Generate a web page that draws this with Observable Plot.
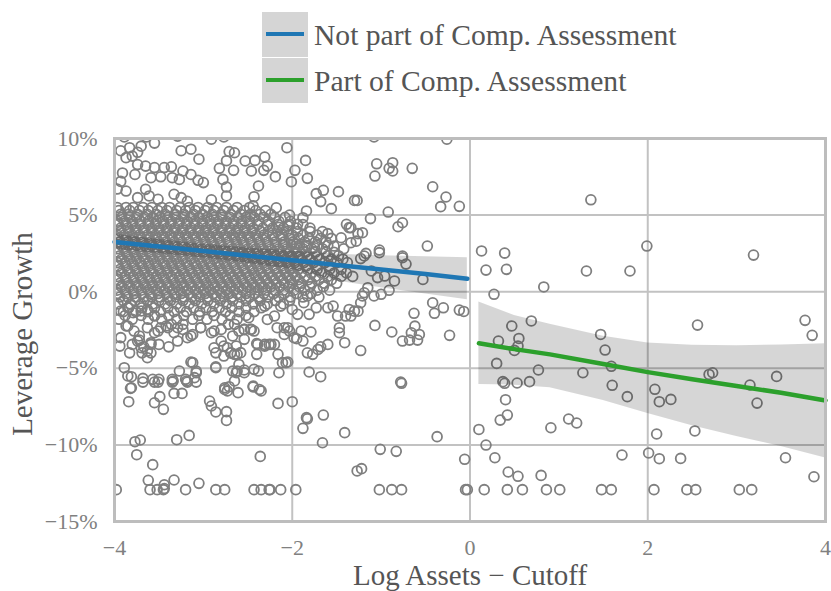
<!DOCTYPE html>
<html><head><meta charset="utf-8">
<script src="https://cdn.jsdelivr.net/npm/d3@7"></script>
<script src="https://cdn.jsdelivr.net/npm/@observablehq/plot@0.6"></script>
<style>
body{margin:0;background:#fff;}
#wrap{position:relative;width:831px;height:591px;font-family:"Liberation Serif",serif;}
#chart{position:absolute;left:0;top:0;}
.lg-box{position:absolute;left:262px;width:46px;height:45px;background:#d5d5d5;}
.lg-line{position:absolute;left:4px;right:4px;top:20px;height:4px;}
.lg-text{position:absolute;left:314px;font-size:29.6px;color:#555;line-height:45px;white-space:nowrap;}
</style></head><body>
<div id="wrap"><div id="chart"></div><div id="legend"></div></div>
<script>
const seriesNames = ["Not part of Comp. Assessment", "Part of Comp. Assessment"];
const seriesColors = ["#1f77b4", "#2ca02c"];
const xTicks = [-4, -2, 0, 2, 4];
const yTicks = [-15, -10, -5, 0, 5, 10];

// Not part of Comp. Assessment: scattered points [x, y%]
const notPartPts = [
[-3.89,10.1],[-3.64,10.1],[-3.55,9.7],[-3.29,10.15],[-2.91,9.95],[-2.77,10.1],[-3.93,9.2],[-3.83,9.4],[-3.70,9.5],[-3.74,9.1],[-3.87,8.75],[-3.80,8.85],[-3.25,9.2],[-3.14,9.3],[-3.05,8.65],[-2.71,9.15],[-2.74,8.55],[-2.82,8.05],[-3.74,8.3],[-3.65,8.2],[-3.91,7.75],[-3.77,7.65],[-3.55,8.1],[-3.44,8.1],[-3.36,8.15],[-3.23,7.88],[-3.14,7.65],[-3.59,7.44],[-3.48,7.5],[-3.35,7.44],[-3.27,7.33],[-3.06,7.27],[-3.00,7.12],[-2.78,7.33],[-2.74,6.83],[-3.93,7.2],[-3.97,6.7],[-3.87,6.57],[-3.65,6.68],[-3.61,6.25],[-3.33,6.36],[-3.25,6.14],[-3.18,5.9],[-2.74,6.25],[-2.91,6.0],[-3.74,6.14],[-3.51,6.03],
[-2.06,9.4],[-2.65,9.07],[-2.53,8.53],[-2.42,8.57],[-2.31,8.79],[-2.28,8.2],[-2.32,7.92],[-2.46,7.88],[-2.66,7.92],[-2.19,7.51],[-2.01,7.18],[-1.97,7.92],[-1.85,8.57],[-1.83,7.4],[-2.38,6.9],[-2.43,6.2],[-1.73,6.4],[-1.65,6.62],[-1.68,5.88],[-1.48,6.53],[-1.56,5.42],[-1.30,5.96],
[-2.18,5.48],[-2.44,5.6],[-1.84,5.27],[-2.03,5.0],[-1.88,4.83],[-1.94,4.4],[-2.05,4.3],[-2.15,4.2],[-1.39,4.4],[-1.36,4.18],[-1.60,3.79],[-1.45,3.52],[-1.53,2.98],[-1.75,2.87],[-1.84,2.98],[-1.95,3.1],[-2.08,3.1],
[-1.08,10.1],[-0.26,9.95],[-1.05,8.35],[-0.87,8.42],[-0.91,8.05],[-0.87,7.88],[-1.07,7.55],[-0.65,8.05],[-0.42,6.85],[-0.27,6.18],[-0.33,5.55],[-0.12,5.57],[-1.27,5.96],[-0.92,5.2],[-1.12,4.77],[-0.76,4.5],[-0.81,4.24],[-0.48,2.98],[-1.02,2.72],[-1.34,4.18],[-1.26,3.79],[-1.21,3.85],[-1.28,3.3],[-1.34,3.2],[-1.17,2.5],[-0.76,2.33],
[-1.19,2.33],[-1.23,2.16],[-1.02,2.55],[-0.76,2.22],[-0.72,1.8],[-1.11,1.35],[-1.04,0.92],[-0.96,1.02],[-0.85,0.7],[-0.53,0.8],[-1.15,0.26],[-1.19,-0.07],[-1.21,-0.28],[-1.08,-0.28],[-1.0,-0.17],[-0.91,0.09],[-1.23,-0.72],[-1.30,-1.27],[-1.34,-1.59],[-1.26,-1.27],[-0.42,-0.72],[-0.30,-1.05],[-0.40,-1.41],[-0.12,-1.2],[-0.07,-1.29],[-0.63,-1.41],[-1.07,-2.2],[-0.88,-2.63],[-0.62,-2.25],[-0.66,-2.68],[-0.57,-2.79],[-0.76,-3.22],[-0.68,-3.16],[-0.59,-3.16],[-0.23,-2.85],[-1.23,-3.84],[-0.78,-5.9],
[-1.60,-1.05],[-1.54,-0.94],[-1.49,-1.59],[-1.40,-1.59],[-1.36,-1.16],[-1.47,-2.35],[-1.47,-2.68],[-1.41,-3.33],[-1.60,-3.44],[-1.68,-3.6],[-1.71,-3.77],[-1.77,-4.09],[-1.83,-3.99],[-1.88,-3.22],[-1.79,-2.63],[-1.90,-2.57],[-1.81,-1.48],[-1.73,-1.05],[-1.95,-3.07],[-2.40,-3.38],[-2.31,-3.55],[-2.26,-3.44],[-2.20,-3.44],[-2.40,-4.09],[-2.11,-4.63],[-2.05,-4.59],[-2.62,-5.18],[-2.54,-5.11],[-2.38,-5.18],[-2.15,-5.29],[-1.81,-5.24],[-1.68,-5.55],[-2.65,-5.83],
[-2.47,-2.46],[-2.54,-2.46],[-2.43,-2.57],[-2.49,-1.7],[-2.31,-0.94],[-2.20,-1.59],[-2.13,-0.94],[-2.28,-1.81],[-2.17,-2.35],[-2.09,-2.35],[-2.03,-2.57],[-2.00,-1.16],[-1.94,-1.48],[-1.87,-0.72],[-1.83,-0.28],[-2.65,-2.13],[-2.60,-2.57],[-2.54,-3.11],[-2.63,-3.55],[-2.69,-3.99],[-2.62,-4.09],
[-3.89,-4.96],[-3.81,-5.55],[-3.68,-5.66],[-3.57,-5.72],[-3.50,-5.72],[-3.35,-5.72],[-3.27,-5.18],[-3.14,-4.59],[-3.08,-5.18],[-3.10,-5.61],[-3.19,-5.83],[-2.86,-4.9],[-2.67,-5.18],
[-3.87,-2.24],[-3.72,-2.89],[-3.63,-2.35],[-3.55,-2.68],[-3.48,-2.35],[-3.42,-2.24],[-3.36,-2.13],[-3.29,-2.35],[-3.23,-2.13],[-3.14,-2.89],[-3.03,-2.35],[-2.91,-2.68],[-2.80,-2.46],[-2.72,-2.13],[-2.67,-2.89],
[-3.80,-3.44],[-3.72,-3.16],[-3.67,-3.6],[-3.59,-3.33],[-3.50,-3.44],[-3.39,-3.6],[-3.29,-3.22],[-2.88,-3.66],[-2.77,-3.55],[-2.69,-3.99],[-2.77,-4.2],[-2.86,-3.99],[-3.69,-3.99],[-3.63,-4.31],[-3.59,-3.99],[-3.83,-3.99],
[-3.85,-5.5],[-3.81,-6.27],[-3.34,-5.83],[-3.20,-5.72],[-3.08,-5.29],[-3.12,-4.63],[-2.86,-4.96],[-2.60,-4.75],[-2.63,-5.29],[-2.54,-5.29],[-2.43,-5.07],[-2.37,-6.38],[-2.44,-6.16],[-2.76,-6.27],[-2.73,-6.48],[-2.07,-4.63],
[-3.93,-1.26],[-3.85,-1.04],[-3.79,-1.37],[-3.70,-1.26],[-3.63,-1.15],[-3.55,-1.59],[-3.85,-2.24],[-3.78,-2.57],[-3.74,-3.22],[-3.70,-3.66],[-3.63,-3.87],[-3.59,-3.44],[-3.51,-2.57],[-3.40,-2.35],[-3.33,-2.68],[-3.23,-2.46],[-3.18,-3.0],[-3.12,-2.79],[-3.03,-2.35],[-2.88,-2.57],[-2.80,-3.22],[-2.73,-3.66],[-2.65,-4.09],[-2.58,-3.98],[-2.54,-2.46],[-2.46,-2.46],[-2.39,-3.44],[-2.31,-3.44],[-2.24,-3.44],[-2.16,-4.09],[-2.09,-2.79],[-2.05,-2.35],[-1.98,-3.0],[-3.93,-3.0],[-3.94,-3.55],
[-3.98,-12.92],[-3.60,-12.92],[-3.52,-12.92],[-3.45,-12.92],[-3.44,-12.85],[-3.20,-12.92],[-2.86,-12.92],[-2.76,-12.92],[-2.43,-12.92],[-2.35,-12.92],[-2.26,-12.92],[-2.25,-12.92],[-2.13,-12.92],[-1.96,-12.92],[-1.02,-12.92],[-0.88,-12.92],[-0.77,-12.92],[-0.05,-12.92],[-0.03,-12.92],
[-3.62,-12.31],[-3.44,-12.6],[-3.33,-12.29],[-3.05,-12.51],[-3.57,-11.29],[-3.75,-10.64],[-2.36,-10.75],[-3.77,-9.79],[-3.71,-9.68],[-3.30,-9.66],[-3.16,-9.38],[-1.01,-10.29],[-0.83,-10.42],[-1.27,-11.70],[-1.22,-11.55],[-0.06,-10.94],[-1.66,-9.86],[-1.41,-9.20],[-0.37,-9.46],[-1.88,-8.92],[-1.84,-8.22],[-1.83,-8.3],[-1.65,-8.05],[-2.00,-7.18],[-2.16,-7.29],[-3.84,-7.18],[-3.82,-6.31],[-3.55,-7.25],[-3.49,-6.85],[-3.45,-7.68],[-3.33,-6.64],[-3.24,-6.64],[-2.93,-7.14],[-2.91,-7.46],[-2.86,-7.85],[-2.74,-7.83],[-2.74,-8.40],[-2.76,-6.38],[-2.71,-6.20],[-2.61,-6.59],[-2.44,-6.22],[-2.35,-6.48],[-0.77,-5.98],
[-3.68,-5.9],[-3.55,-5.9],[-3.51,-5.9],[-3.35,-5.9],[-3.18,-5.9],[-3.08,-5.9]
];

// Not part of Comp. Assessment: dense core, read row by row [y%, x values]
const notPartDenseRows = [
[5.5,[-3.97,-3.87,-3.79,-3.68,-3.58,-3.47,-3.38,-3.26,-3.16,-3.06,-2.95,-2.85,-2.74,-2.62,-2.48]],
[5.3,[-3.95,-3.83,-3.72,-3.62,-3.51,-3.41,-3.3,-3.2,-3.09,-2.98,-2.88,-2.77,-2.66,-2.54,-2.41,-2.3]],
[5.05,[-3.93,-3.84,-3.74,-3.63,-3.53,-3.43,-3.32,-3.22,-3.11,-3.01,-2.9,-2.8,-2.69,-2.58,-2.47,-2.36,-2.24]],
[4.85,[-3.92,-3.83,-3.75,-3.66,-3.57,-3.49,-3.4,-3.31,-3.22,-3.14,-3.05,-2.96,-2.88,-2.79,-2.7,-2.61,-2.52,-2.43,-2.32,-2.2,-2.08]],
[4.6,[-3.97,-3.89,-3.8,-3.71,-3.62,-3.53,-3.45,-3.36,-3.27,-3.18,-3.1,-3.01,-2.92,-2.83,-2.74,-2.66,-2.57,-2.48,-2.38,-2.27,-2.15,-2.02]],
[4.38,[-3.96,-3.87,-3.8,-3.71,-3.62,-3.54,-3.45,-3.37,-3.28,-3.19,-3.1,-3.01,-2.92,-2.84,-2.75,-2.66,-2.57,-2.48,-2.39,-2.28,-2.16,-2.03,-1.88]],
[4.15,[-3.93,-3.85,-3.76,-3.67,-3.58,-3.5,-3.41,-3.32,-3.23,-3.14,-3.05,-2.97,-2.88,-2.79,-2.7,-2.61,-2.53,-2.44,-2.33,-2.22,-2.1,-1.95,-1.8]],
[3.93,[-3.93,-3.84,-3.76,-3.67,-3.58,-3.5,-3.41,-3.33,-3.24,-3.15,-3.06,-2.98,-2.89,-2.8,-2.71,-2.63,-2.54,-2.45,-2.36,-2.27,-2.17,-2.06,-1.94,-1.8,-1.66]],
[3.7,[-3.97,-3.89,-3.8,-3.72,-3.63,-3.54,-3.46,-3.37,-3.28,-3.2,-3.11,-3.02,-2.94,-2.85,-2.76,-2.67,-2.59,-2.5,-2.41,-2.32,-2.22,-2.12,-2.0,-1.88,-1.72]],
[3.48,[-3.96,-3.87,-3.79,-3.7,-3.61,-3.53,-3.44,-3.35,-3.27,-3.18,-3.09,-3.0,-2.92,-2.83,-2.74,-2.65,-2.57,-2.48,-2.39,-2.3,-2.21,-2.12,-2.03,-1.93,-1.81,-1.68,-1.56]],
[3.25,[-3.94,-3.85,-3.77,-3.68,-3.59,-3.5,-3.42,-3.33,-3.24,-3.16,-3.07,-2.98,-2.9,-2.81,-2.72,-2.63,-2.55,-2.46,-2.37,-2.28,-2.19,-2.09,-1.99,-1.86,-1.74,-1.62]],
[3.02,[-3.92,-3.84,-3.75,-3.66,-3.58,-3.49,-3.4,-3.32,-3.23,-3.14,-3.06,-2.97,-2.88,-2.8,-2.71,-2.62,-2.54,-2.45,-2.36,-2.27,-2.19,-2.1,-2.01,-1.92,-1.83,-1.72,-1.6]],
[2.8,[-3.97,-3.89,-3.8,-3.71,-3.63,-3.54,-3.45,-3.37,-3.28,-3.19,-3.11,-3.02,-2.93,-2.85,-2.76,-2.67,-2.59,-2.5,-2.41,-2.33,-2.24,-2.15,-2.06,-1.97,-1.88,-1.78,-1.66,-1.42]],
[2.57,[-3.96,-3.87,-3.78,-3.7,-3.61,-3.52,-3.44,-3.35,-3.26,-3.17,-3.09,-3.0,-2.91,-2.83,-2.74,-2.65,-2.56,-2.48,-2.39,-2.3,-2.21,-2.13,-2.04,-1.95,-1.85,-1.74,-1.62,-1.53]],
[2.35,[-3.94,-3.85,-3.76,-3.68,-3.59,-3.5,-3.41,-3.33,-3.24,-3.15,-3.07,-2.98,-2.89,-2.8,-2.72,-2.63,-2.54,-2.46,-2.37,-2.28,-2.19,-2.1,-2.01,-1.92,-1.83,-1.72,-1.6,-1.48]],
[2.12,[-3.92,-3.83,-3.75,-3.66,-3.57,-3.49,-3.4,-3.31,-3.23,-3.14,-3.05,-2.96,-2.88,-2.79,-2.7,-2.61,-2.53,-2.44,-2.35,-2.26,-2.17,-2.08,-1.99,-1.9,-1.8,-1.69,-1.56,-1.43]],
[1.9,[-3.97,-3.88,-3.8,-3.71,-3.62,-3.54,-3.45,-3.36,-3.28,-3.19,-3.1,-3.02,-2.93,-2.84,-2.76,-2.67,-2.58,-2.5,-2.41,-2.32,-2.24,-2.15,-2.06,-1.97,-1.87,-1.76,-1.63,-1.5,-1.38]],
[1.68,[-3.96,-3.87,-3.78,-3.69,-3.61,-3.52,-3.43,-3.35,-3.26,-3.17,-3.08,-3.0,-2.91,-2.82,-2.74,-2.65,-2.56,-2.47,-2.39,-2.3,-2.21,-2.12,-2.03,-1.94,-1.84,-1.72,-1.58]],
[1.45,[-3.94,-3.85,-3.76,-3.67,-3.59,-3.5,-3.41,-3.33,-3.24,-3.15,-3.06,-2.98,-2.89,-2.8,-2.72,-2.63,-2.54,-2.45,-2.37,-2.28,-2.19,-2.1,-2.02,-1.93,-1.83,-1.72,-1.58,-1.45]],
[1.22,[-3.92,-3.83,-3.74,-3.66,-3.57,-3.48,-3.4,-3.31,-3.22,-3.13,-3.05,-2.96,-2.87,-2.79,-2.7,-2.61,-2.52,-2.43,-2.35,-2.26,-2.17,-2.08,-1.99,-1.9,-1.79,-1.67,-1.53,-1.39]],
[1.0,[-3.97,-3.88,-3.79,-3.71,-3.62,-3.53,-3.45,-3.36,-3.27,-3.19,-3.1,-3.01,-2.93,-2.84,-2.75,-2.67,-2.58,-2.49,-2.41,-2.32,-2.23,-2.14,-2.05,-1.96,-1.86,-1.74,-1.6,-1.45,-1.32]],
[0.78,[-3.96,-3.87,-3.78,-3.69,-3.6,-3.52,-3.43,-3.34,-3.26,-3.17,-3.08,-2.99,-2.91,-2.82,-2.73,-2.64,-2.56,-2.47,-2.38,-2.29,-2.2,-2.11,-2.02,-1.93,-1.82,-1.7,-1.56]],
[0.55,[-3.94,-3.85,-3.76,-3.67,-3.58,-3.5,-3.41,-3.32,-3.24,-3.15,-3.06,-2.97,-2.89,-2.8,-2.71,-2.63,-2.54,-2.45,-2.36,-2.27,-2.18,-2.09,-2.0,-1.9,-1.78,-1.64,-1.5]],
[0.33,[-3.92,-3.83,-3.74,-3.65,-3.57,-3.48,-3.39,-3.3,-3.22,-3.13,-3.04,-2.95,-2.87,-2.78,-2.69,-2.6,-2.51,-2.42,-2.33,-2.24,-2.14,-2.04,-1.92,-1.8,-1.65]],
[0.1,[-3.97,-3.88,-3.79,-3.7,-3.62,-3.53,-3.44,-3.35,-3.27,-3.18,-3.09,-3.0,-2.92,-2.83,-2.74,-2.65,-2.56,-2.47,-2.38,-2.29,-2.2,-2.1,-1.98,-1.86,-1.72,-1.58]],
[-0.12,[-3.96,-3.87,-3.78,-3.69,-3.6,-3.51,-3.42,-3.33,-3.25,-3.16,-3.07,-2.98,-2.89,-2.8,-2.71,-2.62,-2.52,-2.42,-2.32,-2.21,-2.09,-1.95,-1.79]],
[-0.35,[-3.94,-3.85,-3.76,-3.67,-3.58,-3.49,-3.4,-3.31,-3.22,-3.13,-3.04,-2.95,-2.86,-2.77,-2.68,-2.58,-2.48,-2.38,-2.27,-2.15,-2.02,-1.88,-1.7]],
[-0.58,[-3.9,-3.77,-3.63,-3.5,-3.37,-3.23,-3.09,-2.95,-2.81,-2.67,-2.52,-2.36,-2.19,-2.03]],
[-0.8,[-3.96,-3.82,-3.7,-3.57,-3.43,-3.3,-3.16,-3.02,-2.88,-2.74,-2.6,-2.44,-2.28,-2.1]],
[-1.05,[-3.84,-3.69,-3.55,-3.4,-3.26,-3.11,-2.97,-2.82,-2.68,-2.52,-2.35]],
[-1.3,[-3.9,-3.76,-3.62,-3.48,-3.33,-3.19,-3.04,-2.9,-2.75,-2.6,-2.43]],
[-1.55,[-3.88,-3.7,-3.55,-3.39,-3.22,-3.05,-2.88,-2.7,-2.52]],
[-1.8,[-3.95,-3.8,-3.62,-3.47,-3.3,-3.12,-2.96,-2.79,-2.62]]
];

// Part of Comp. Assessment points [x, y%]
const partPts = [
[0.13,2.66],[0.39,2.52],[0.18,1.41],[0.41,1.46],[1.31,1.35],[1.80,1.35],[1.99,2.98],[3.19,2.39],[0.83,0.31],[0.27,-0.17],[0.47,-2.24],[0.69,-1.91],[2.56,-2.18],[3.77,-1.87],[3.85,-2.85],[0.32,-3.22],[0.55,-3.05],[0.54,-3.55],[0.50,-3.83],[1.47,-2.79],[1.52,-3.81],[0.30,-4.68],[1.59,-4.87],[0.77,-5.11],[1.27,-5.29],[2.69,-5.40],[2.73,-5.29],[3.45,-5.53],[3.15,-6.09],[3.23,-7.27],[0.37,-5.87],[0.39,-5.98],[0.53,-5.96],[0.67,-5.87],[1.60,-6.11],[1.77,-6.85],[2.08,-6.37],[2.13,-7.18],[2.26,-7.03],[0.40,-7.05],[0.42,-8.05],[0.34,-8.38],[0.10,-8.99],[0.91,-8.88],[1.11,-8.31],[1.20,-8.57],[2.10,-9.29],[2.53,-9.09],[0.18,-10.01],[0.28,-10.84],[1.71,-10.66],[2.01,-10.53],[2.13,-10.90],[2.37,-10.88],[3.55,-10.84],[3.87,-12.08],[0.43,-11.77],[0.54,-12.05],[0.80,-11.99],[0.16,-12.92],[0.42,-12.92],[0.59,-12.92],[0.86,-12.92],[1.01,-12.92],[1.48,-12.92],[1.59,-12.92],[2.07,-12.92],[2.44,-12.92],[2.54,-12.92],[3.03,-12.92],[3.17,-12.92],[1.36,6.0]
];

// Fitted lines and confidence bands
const notPartFitX  = [-4, -3.5, -3, -2.5, -2, -1.5, -1, -0.5, -0.03];
const notPartFitY  = [3.25, 2.95, 2.65, 2.35, 2.05, 1.75, 1.45, 1.15, 0.85];
const notPartFitLo = [2.75, 2.5, 2.2, 1.85, 1.45, 0.7, 0.25, -0.15, -0.52];
const notPartFitHi = [3.75, 3.4, 3.1, 2.85, 2.65, 2.45, 2.35, 2.28, 2.22];
const partFitX  = [0.1, 0.5, 0.9, 1.5, 2.0, 2.5, 3.0, 3.5, 4.0];
const partFitY  = [-3.37, -3.75, -4.09, -4.72, -5.25, -5.72, -6.15, -6.6, -7.1];
const partFitLo = [-6.05, -6.1, -6.27, -7.1, -7.95, -8.75, -9.45, -10.1, -10.85];
const partFitHi = [-0.67, -1.55, -2.13, -2.9, -3.35, -3.5, -3.52, -3.48, -3.4];

const notPartAll = notPartPts.concat(notPartDenseRows.flatMap(([y, xs]) => xs.map(x => [x, y])));
const fitTable = (xs, ys, lo, hi) => xs.map((x, i) => ({x, y: ys[i], lo: lo[i], hi: hi[i]}));
const notPartFit = fitTable(notPartFitX, notPartFitY, notPartFitLo, notPartFitHi);
const partFit = fitTable(partFitX, partFitY, partFitLo, partFitHi);
const fmtNum = d => String(d).replace("-", "\u2212");

const dotOpts = {x: d => d[0], y: d => d[1], r: 4.9, stroke: "#7f7f7f", strokeWidth: 1.8, fill: "none", clip: true};

const chart = Plot.plot({
  width: 831, height: 591,
  marginTop: 138, marginBottom: 70, marginLeft: 114, marginRight: 6,
  style: {fontFamily: "'Liberation Serif', serif", fontSize: "22px", color: "#808080", background: "white"},
  x: {domain: [-4, 4]},
  y: {domain: [-15, 10]},
  marks: [
    Plot.gridX(xTicks, {stroke: "#c2c2c2", strokeOpacity: 1, strokeWidth: 2}),
    Plot.gridY(yTicks, {stroke: "#c2c2c2", strokeOpacity: 1, strokeWidth: 2}),
    Plot.dot(notPartAll, dotOpts),
    Plot.dot(partPts, dotOpts),
    Plot.areaY(notPartFit, {x: "x", y1: "lo", y2: "hi", fill: "black", fillOpacity: 0.16}),
    Plot.areaY(partFit, {x: "x", y1: "lo", y2: "hi", fill: "black", fillOpacity: 0.16}),
    Plot.line(notPartFit, {x: "x", y: "y", stroke: seriesColors[0], strokeWidth: 4.5}),
    Plot.line(partFit, {x: "x", y: "y", stroke: seriesColors[1], strokeWidth: 4.5}),
    Plot.frame({stroke: "#bdbdbd", strokeWidth: 3}),
    Plot.axisX(xTicks, {label: null, tickSize: 0, tickPadding: 18, tickFormat: fmtNum, fill: "#808080"}),
    Plot.axisY(yTicks, {label: null, tickSize: 0, tickPadding: 17, tickFormat: d => fmtNum(d) + "%", fill: "#808080"}),
    Plot.text(["Log Assets \u2212 Cutoff"], {frameAnchor: "bottom", dy: 63, fontSize: 29, fill: "#555"}),
    Plot.text(["Leverage Growth"], {frameAnchor: "left", textAnchor: "middle", dx: -92, dy: 4, rotate: -90, fontSize: 29, fill: "#555"})
  ]
});
document.getElementById("chart").appendChild(chart);

const legend = document.getElementById("legend");
seriesNames.forEach((name, i) => {
  const top = 12 + i * 46;
  const box = document.createElement("div");
  box.className = "lg-box"; box.style.top = top + "px";
  const line = document.createElement("div");
  line.className = "lg-line"; line.style.background = seriesColors[i];
  box.appendChild(line);
  const txt = document.createElement("div");
  txt.className = "lg-text"; txt.style.top = (top + 1) + "px"; txt.textContent = name;
  legend.appendChild(box); legend.appendChild(txt);
});
</script>
</body></html>
